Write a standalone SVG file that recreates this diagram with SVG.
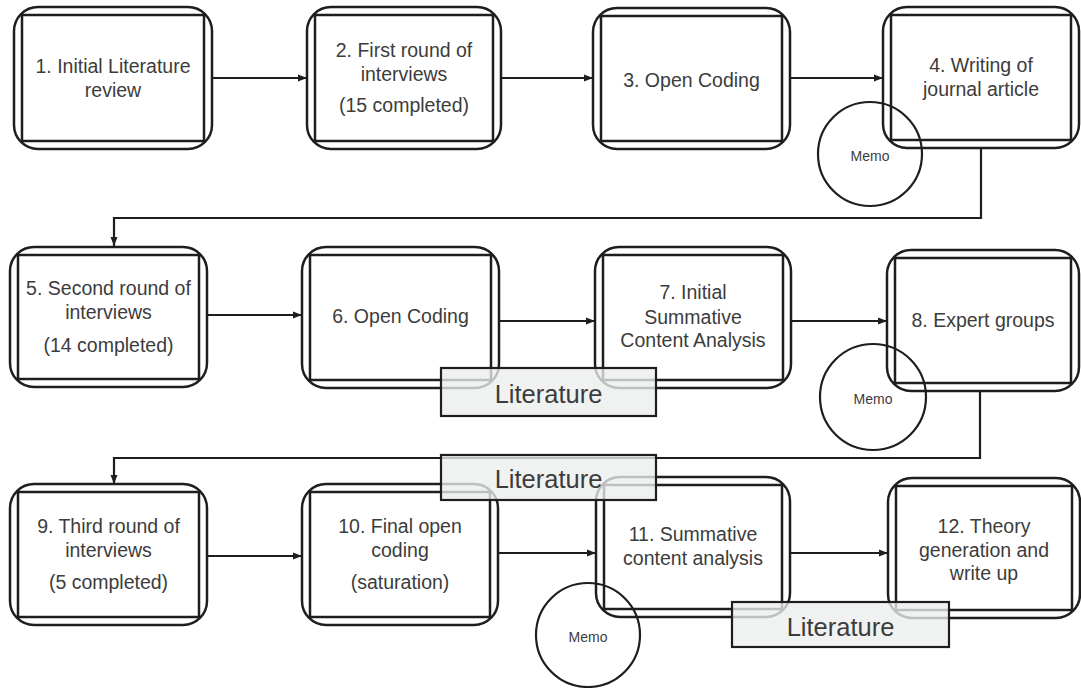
<svg xmlns="http://www.w3.org/2000/svg" width="1081" height="688" viewBox="0 0 1081 688">
<defs>
<marker id="arr" markerUnits="userSpaceOnUse" markerWidth="10" markerHeight="8" refX="9" refY="4" orient="auto">
<path d="M0,0.5 L9,4 L0,7.5 Z" fill="#1e1e1e"/>
</marker>
<style>
.o{fill:#fff;stroke:#1e1e1e;stroke-width:2.5}
.i{fill:none;stroke:#1e1e1e;stroke-width:2.5}
.t{font-family:"Liberation Sans",Arial,sans-serif;font-size:19.5px;fill:#3c3c3c;text-anchor:middle}
.c{fill:none;stroke:#1e1e1e;stroke-width:2.2;marker-end:url(#arr)}
.m{fill:none;stroke:#1e1e1e;stroke-width:2.2}
.mt{font-family:"Liberation Sans",Arial,sans-serif;font-size:14px;fill:#3c3c3c;text-anchor:middle}
.l{fill:#eceeed;fill-opacity:0.78;stroke:#1e1e1e;stroke-width:2.2}
.lt{font-family:"Liberation Sans",Arial,sans-serif;font-size:25.5px;fill:#3c3c3c;text-anchor:middle}
</style>
</defs>
<g id="connectors">
<path class="c" d="M212,78 H307"/>
<path class="c" d="M501,78 H593"/>
<path class="c" d="M790,78 H883"/>
<path class="c" d="M981,148 V218 H114 V246"/>
<path class="c" d="M207,315 H302"/>
<path class="c" d="M499,321 H595"/>
<path class="c" d="M791,321 H887"/>
<path class="c" d="M980,390 V458 H114 V484"/>
<path class="c" d="M207,556 H302"/>
<path class="c" d="M498,553 H596"/>
<path class="c" d="M790,553 H888"/>
</g>
<g id="n1"><rect class="o" x="14" y="7" width="198" height="142" rx="24"/><rect class="i" x="22" y="15" width="182" height="126"/>
<text class="t" x="113" y="73">1. Initial Literature</text><text class="t" x="113" y="97">review</text></g>
<g id="n2"><rect class="o" x="307" y="7" width="194" height="142" rx="24"/><rect class="i" x="315" y="15" width="178" height="126"/>
<text class="t" x="404" y="57">2. First round of</text><text class="t" x="404" y="81">interviews</text><text class="t" x="404" y="112">(15 completed)</text></g>
<g id="n3"><rect class="o" x="593" y="8" width="197" height="141" rx="24"/><rect class="i" x="601" y="16" width="181" height="125"/>
<text class="t" x="691.5" y="87">3. Open Coding</text></g>
<g id="n4"><rect class="o" x="883" y="7" width="196" height="141" rx="24"/><rect class="i" x="891" y="15" width="180" height="125"/>
<text class="t" x="981" y="72">4. Writing of</text><text class="t" x="981" y="96">journal article</text></g>
<g id="n5"><rect class="o" x="10" y="247" width="197" height="140" rx="24"/><rect class="i" x="18" y="255" width="181" height="124"/>
<text class="t" x="108.5" y="295">5. Second round of</text><text class="t" x="108.5" y="319">interviews</text><text class="t" x="108.5" y="352">(14 completed)</text></g>
<g id="n6"><rect class="o" x="302" y="247" width="197" height="141" rx="24"/><rect class="i" x="310" y="255" width="181" height="125"/>
<text class="t" x="400.5" y="323">6. Open Coding</text></g>
<g id="n7"><rect class="o" x="595" y="247" width="196" height="141" rx="24"/><rect class="i" x="603" y="255" width="180" height="125"/>
<text class="t" x="693" y="299">7. Initial</text><text class="t" x="693" y="324">Summative</text><text class="t" x="693" y="347">Content Analysis</text></g>
<g id="n8"><rect class="o" x="887" y="250" width="192" height="141" rx="24"/><rect class="i" x="895" y="258" width="176" height="125"/>
<text class="t" x="983" y="327">8. Expert groups</text></g>
<g id="n9"><rect class="o" x="10" y="484" width="197" height="141" rx="24"/><rect class="i" x="18" y="492" width="181" height="125"/>
<text class="t" x="108.5" y="533">9. Third round of</text><text class="t" x="108.5" y="557">interviews</text><text class="t" x="108.5" y="589">(5 completed)</text></g>
<g id="n10"><rect class="o" x="302" y="484" width="196" height="141" rx="24"/><rect class="i" x="310" y="492" width="180" height="125"/>
<text class="t" x="400" y="533">10. Final open</text><text class="t" x="400" y="557">coding</text><text class="t" x="400" y="589">(saturation)</text></g>
<g id="n11"><rect class="o" x="596" y="477" width="194" height="140" rx="24"/><rect class="i" x="604" y="485" width="178" height="124"/>
<text class="t" x="693" y="541">11. Summative</text><text class="t" x="693" y="565">content analysis</text></g>
<g id="n12"><rect class="o" x="888" y="478" width="192" height="140" rx="24"/><rect class="i" x="896" y="486" width="176" height="124"/>
<text class="t" x="984" y="533">12. Theory</text><text class="t" x="984" y="557">generation and</text><text class="t" x="984" y="580">write up</text></g>
<g id="lit1"><rect class="l" x="441" y="368" width="215" height="48"/><text class="lt" x="548.5" y="403">Literature</text></g>
<g id="lit2"><rect class="l" x="441" y="455" width="215" height="45"/><text class="lt" x="548.5" y="488">Literature</text></g>
<g id="lit3"><rect class="l" x="732" y="602" width="217" height="45"/><text class="lt" x="840.5" y="636">Literature</text></g>
<g id="memo1"><circle class="m" cx="870" cy="154" r="52"/><text class="mt" x="870" y="161">Memo</text></g>
<g id="memo2"><circle class="m" cx="873" cy="397" r="53"/><text class="mt" x="873" y="404">Memo</text></g>
<g id="memo3"><circle class="m" cx="588" cy="635" r="52"/><text class="mt" x="588" y="642">Memo</text></g>
</svg>
